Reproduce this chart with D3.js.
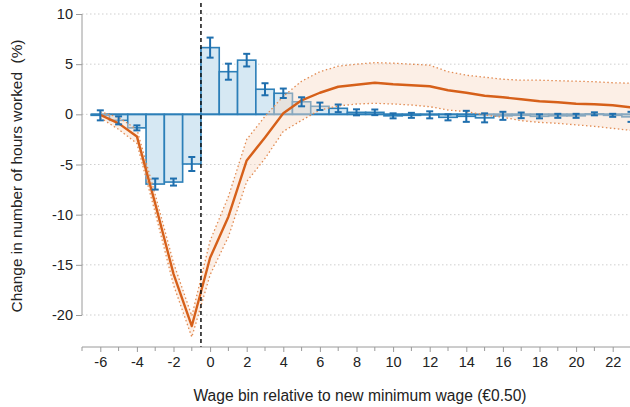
<!DOCTYPE html>
<html><head><meta charset="utf-8">
<script src="https://cdn.jsdelivr.net/npm/d3@7"></script>
<style>body{margin:0;background:#fff}svg{display:block}text{font-family:"Liberation Sans",Arial,sans-serif;fill:#222}</style>
</head><body>
<svg id="c" width="630" height="407"></svg>
<script>
const bins = d3.range(-6, 24);
const estimates = [-0.1,-0.6,-1.35,-6.95,-6.75,-4.95,6.65,4.25,5.4,2.5,2.1,1.25,0.8,0.6,0.2,0.2,-0.15,-0.1,-0.05,-0.3,-0.2,-0.35,-0.15,-0.1,-0.2,-0.15,-0.15,0.05,-0.1,-0.25];
const ciHalf = [0.5,0.4,0.25,0.55,0.35,0.7,1.0,0.8,0.63,0.6,0.47,0.45,0.37,0.38,0.3,0.28,0.25,0.25,0.35,0.3,0.55,0.45,0.4,0.28,0.2,0.2,0.2,0.15,0.15,0.5];
const predicted = [-0.05,-0.9,-2.2,-8.9,-15.9,-21.1,-14.3,-10.2,-4.6,-2.3,0.1,1.4,2.15,2.75,2.95,3.15,3.0,2.9,2.8,2.4,2.15,1.85,1.7,1.5,1.3,1.2,1.05,1.0,0.9,0.7];
const predUpper = [0.25,-0.3,-1.5,-8.0,-14.8,-20.1,-12.6,-8.2,-2.5,-0.2,1.8,3.3,4.25,4.8,5.0,5.15,5.1,5.0,4.9,4.25,3.9,3.7,3.5,3.4,3.4,3.35,3.3,3.25,3.15,3.1];
const predLower = [-0.35,-1.5,-2.9,-9.8,-17.0,-22.2,-16.0,-12.2,-6.7,-4.4,-1.7,-0.6,0.43,0.83,1.03,1.1,1.03,0.93,0.76,0.43,0.27,-0.07,-0.3,-0.63,-0.8,-0.9,-1.05,-1.2,-1.4,-1.6];
const xMajorTicks = d3.range(-6, 23, 2);
const xMinorTicks = d3.range(-7, 24, 1);
const yTicks = [-20,-15,-10,-5,0,5,10];
const cutoff = -0.5;
const xTitle = "Wage bin relative to new minimum wage (€0.50)";
const yTitle = "Change in number of hours worked\u00a0\u00a0(%)";

const svg = d3.select("#c");
const x = d3.scaleLinear().domain([-7, 23]).range([82, 631]);
const y = d3.scaleLinear().domain([-20, 10]).range([315, 14]);
const axisY = 347;
const bw = x(1) - x(0);

const blue = "#2c7fb8", blueDark = "#1f6fae", barFill = "#d6e8f3";
const orange = "#d6601a", bandFill = "#f9dcc8", bandEdge = "#e28b52";

// grid
svg.append("g").selectAll("line").data(yTicks).join("line")
  .attr("x1", x(-7)).attr("x2", 630).attr("y1", d=>y(d)).attr("y2", d=>y(d))
  .attr("stroke", "#cfcfcf").attr("stroke-width", 1).attr("stroke-dasharray", "1.5,2.5");

// bars
svg.append("g").selectAll("rect").data(bins).join("rect")
  .attr("x", (d)=>x(d)-bw/2)
  .attr("width", bw)
  .attr("y", (d,i)=>Math.min(y(estimates[i]), y(0)))
  .attr("height", (d,i)=>Math.abs(y(estimates[i]) - y(0)))
  .attr("fill", barFill).attr("stroke", blue).attr("stroke-width", 1.6);
svg.append("line").attr("x1", x(-6.5)).attr("x2", x(23.5)).attr("y1", y(0)).attr("y2", y(0))
  .attr("stroke", blue).attr("stroke-width", 1.6);

// band
const area = d3.area().x((d,i)=>x(bins[i])).y0((d,i)=>y(predLower[i])).y1((d,i)=>y(predUpper[i]));
svg.append("path").attr("d", area(bins)).attr("fill", bandFill).attr("fill-opacity", 0.45);
const edge = arr => d3.line().x((d,i)=>x(bins[i])).y((d,i)=>y(arr[i]))(bins);
[predUpper, predLower].forEach(a=>{
  svg.append("path").attr("d", edge(a)).attr("fill","none").attr("stroke", bandEdge)
    .attr("stroke-width", 1.3).attr("stroke-dasharray", "1.5,2.5");
});
svg.append("path").attr("d", edge(predicted)).attr("fill","none").attr("stroke", orange).attr("stroke-width", 2.4)
  .attr("stroke-linejoin","round");

// error bars
const eb = svg.append("g").attr("stroke", blueDark).attr("stroke-width", 2);
bins.forEach((b,i)=>{
  const lo = y(estimates[i]-ciHalf[i]), hi = y(estimates[i]+ciHalf[i]), cx = x(b);
  eb.append("line").attr("x1",cx).attr("x2",cx).attr("y1",lo).attr("y2",hi);
  eb.append("line").attr("x1",cx-3.5).attr("x2",cx+3.5).attr("y1",lo).attr("y2",lo);
  eb.append("line").attr("x1",cx-3.5).attr("x2",cx+3.5).attr("y1",hi).attr("y2",hi);
});

// cutoff
svg.append("line").attr("x1", x(cutoff)).attr("x2", x(cutoff)).attr("y1", 3).attr("y2", axisY)
  .attr("stroke", "#111").attr("stroke-width", 1.5).attr("stroke-dasharray", "4,3");

// y axis
const yAxis = svg.append("g").attr("transform", `translate(${x(-7)},0)`)
  .call(d3.axisLeft(y).tickValues(yTicks).tickSize(6).tickPadding(3).tickFormat(d3.format("d")));
yAxis.select(".domain").attr("stroke", "#9a9a9a").attr("d", `M0,${y(10)}V${y(-20)}`);
yAxis.selectAll(".tick line").attr("stroke", "#9a9a9a");
yAxis.selectAll("text").attr("font-size", 14.5).attr("fill", "#222")
  .text(d=>String(d).replace("−","-"));

// x axis
const xAxis = svg.append("g").attr("transform", `translate(0,${axisY})`)
  .call(d3.axisBottom(x).tickValues(xMajorTicks).tickSize(5).tickPadding(5).tickFormat(d=>String(d)));
xAxis.select(".domain").attr("stroke", "#9a9a9a").attr("d", `M${x(-7)},0H630`);
xAxis.selectAll(".tick line").attr("stroke", "#9a9a9a");
xAxis.selectAll("text").attr("font-size", 14.5).attr("fill", "#222");
svg.append("g").selectAll("line").data(xMinorTicks.filter(t=>!xMajorTicks.includes(t))).join("line")
  .attr("x1", d=>x(d)).attr("x2", d=>x(d)).attr("y1", axisY).attr("y2", axisY+4)
  .attr("stroke", "#9a9a9a");

// titles
svg.append("text").attr("x", 360).attr("y", 401).attr("text-anchor","middle").attr("font-size", 15.6).text(xTitle);
svg.append("text").attr("transform", "translate(22,176) rotate(-90)").attr("text-anchor","middle")
  .attr("font-size", 15.4).text(yTitle);
</script>
</body></html>
